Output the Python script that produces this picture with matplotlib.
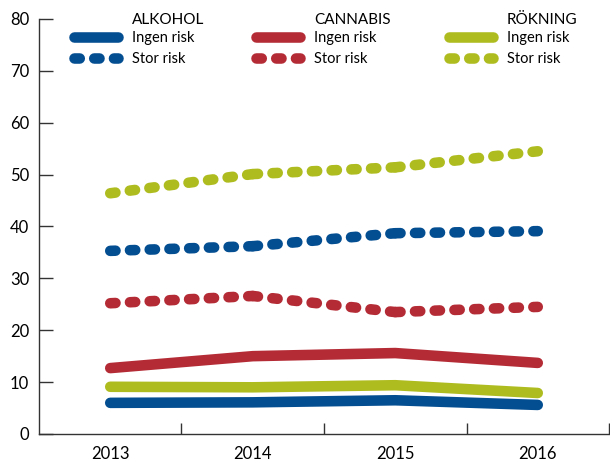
import matplotlib
matplotlib.use("Agg")
import matplotlib.pyplot as plt
from matplotlib.transforms import ScaledTranslation

plt.rcParams['font.family'] = ['Lato', 'DejaVu Sans']

years = ["2013", "2014", "2015", "2016"]
alkohol_ingen = [6.0, 6.1, 6.5, 5.6]
alkohol_stor = [35.3, 36.2, 38.7, 39.1]
cannabis_ingen = [12.7, 15.0, 15.6, 13.7]
cannabis_stor = [25.2, 26.6, 23.5, 24.5]
rokning_ingen = [9.1, 9.0, 9.4, 7.9]
rokning_stor = [46.4, 50.1, 51.4, 54.5]
groups = ["ALKOHOL", "CANNABIS", "RÖKNING"]
row_labels = ["Ingen risk", "Stor risk"]
yticks = [0, 10, 20, 30, 40, 50, 60, 70, 80]

BLUE = "#034D91"
RED = "#B42B35"
GREEN = "#AEBC1F"

fig = plt.figure(figsize=(6.1, 4.65), dpi=100)
ax = fig.add_axes([0.0639, 0.0667, 0.9345, 0.8925])

x = list(range(len(years)))
LW = 7.6
DOTS = (0.5, 1.37)

series = [
    (alkohol_ingen, alkohol_stor, BLUE),
    (cannabis_ingen, cannabis_stor, RED),
    (rokning_ingen, rokning_stor, GREEN),
]
handles = []
for ingen, stor, col in series:
    h1, = ax.plot(x, ingen, color=col, lw=LW, solid_capstyle='round',
                  solid_joinstyle='round')
    h2 = None
    for i in range(len(x) - 1):
        h, = ax.plot(x[i:i + 2], stor[i:i + 2], color=col, lw=LW,
                     linestyle=(0, DOTS), dash_capstyle='round')
        if h2 is None:
            h2 = h
    handles.append((h1, h2))

ax.set_xlim(-0.5, 3.5)
ax.set_ylim(0, 80)
ax.set_yticks(yticks)
ax.set_yticklabels([str(t) for t in yticks], fontsize=12)
off = ScaledTranslation(0, -4.5 / 72, fig.dpi_scale_trans)
for lab in ax.get_yticklabels():
    lab.set_transform(lab.get_transform() + off)
ax.set_xticks([0.5, 1.5, 2.5, 3.5])
ax.set_xticklabels([])
ax.set_xticks(x, minor=True)
ax.set_xticklabels(years, minor=True, fontsize=12)
ax.tick_params(axis='x', which='minor', length=0, pad=9)
ax.tick_params(axis='x', which='major', direction='in', length=8, width=1.0,
               color='#333333')
ax.tick_params(axis='y', direction='in', length=10, width=1.0, pad=7,
               color='#333333')
for s in ['top', 'right']:
    ax.spines[s].set_visible(False)
for s in ['left', 'bottom']:
    ax.spines[s].set_linewidth(1.0)
    ax.spines[s].set_color('#333333')

legend_x = [74, 256, 449]
text_x = [132, 314, 507]
for lx, tx, name, (h1, h2) in zip(legend_x, text_x, groups, handles):
    fig.legend([h1, h2], row_labels, loc='upper left',
               bbox_to_anchor=(lx / 610, 0.933), frameon=False, fontsize=10.5,
               handlelength=3.0, handletextpad=0.95, labelspacing=0.5,
               borderaxespad=0, borderpad=0)
    fig.text(tx / 610, 1 - 20 / 465, name, fontsize=11, ha='left',
             va='center')

fig.savefig("out.png", dpi=100)
